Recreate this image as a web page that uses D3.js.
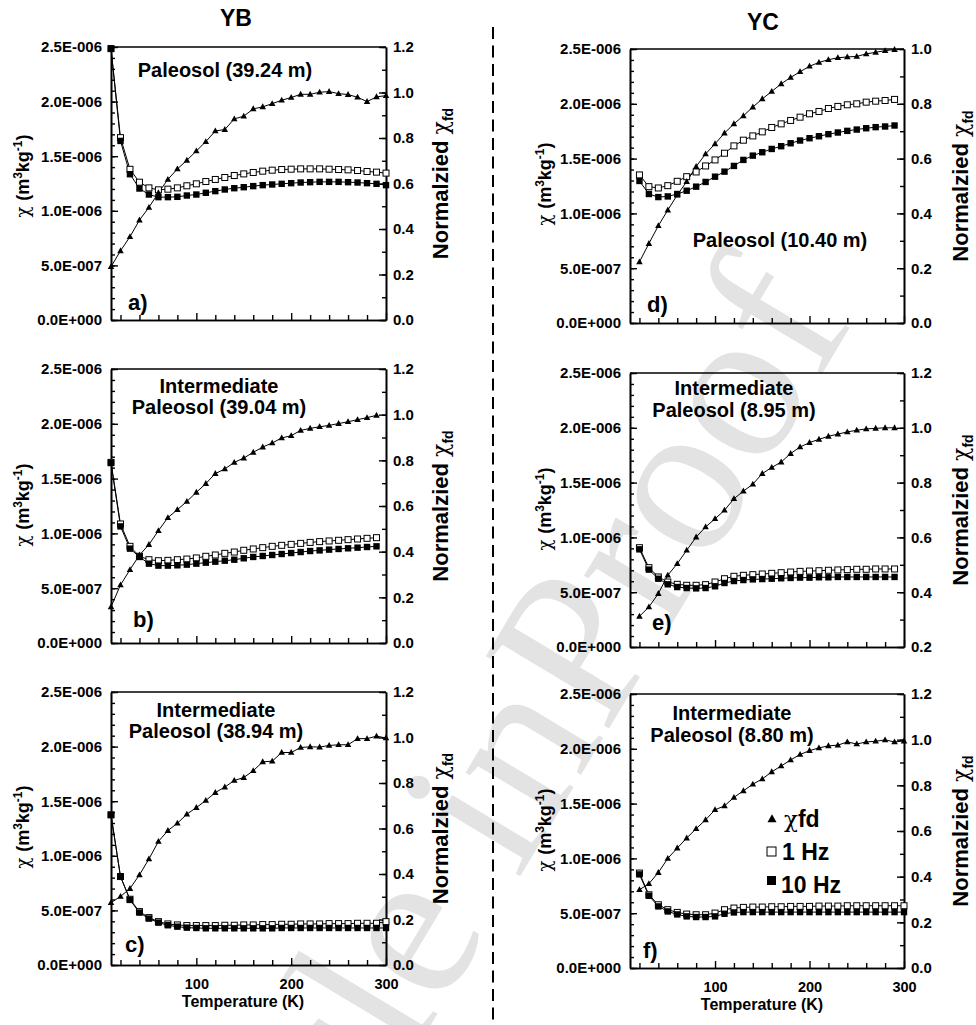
<!DOCTYPE html>
<html><head><meta charset="utf-8">
<script src="https://cdn.jsdelivr.net/npm/d3@7"></script>
<style>
body{margin:0;background:#fff}
svg{display:block}
text{font-family:"Liberation Sans",Arial,sans-serif;font-weight:bold;fill:#000}
</style>
</head><body>
<svg id="chart" width="976" height="1025"></svg>
<script>
// ---------------- DATA ----------------
// temperatures (K)
const T_a = [10,20,30,40,50,60,70,80,90,100,110,120,130,140,150,160,170,180,190,200,210,220,230,240,250,260,270,280,290,300];
const T_b = [10,20,30,40,50,60,70,80,90,100,110,120,130,140,150,160,170,180,190,200,210,220,230,240,250,260,270,280,290];
const T_c = [10,20,30,40,50,60,70,80,90,100,110,120,130,140,150,160,170,180,190,200,210,220,230,240,250,260,270,280,290,300];
const T_d = [20,30,40,50,60,70,80,90,100,110,120,130,140,150,160,170,180,190,200,210,220,230,240,250,260,270,280,290];
const T_e = [20,30,40,50,60,70,80,90,100,110,120,130,140,150,160,170,180,190,200,210,220,230,240,250,260,270,280,290];
const T_f = [20,30,40,50,60,70,80,90,100,110,120,130,140,150,160,170,180,190,200,210,220,230,240,250,260,270,280,290,300];

// chi values in units of 1E-006 m3/kg ; normalized chi_fd (right axis)
const fd_a   = [0.234,0.304,0.366,0.439,0.495,0.559,0.618,0.664,0.702,0.743,0.784,0.831,0.837,0.884,0.896,0.928,0.937,0.951,0.966,0.978,0.992,0.992,1.001,1.004,0.995,0.991,0.979,0.960,0.981,0.986];
const hz1_a  = [2.485,1.67,1.38,1.262,1.21,1.192,1.198,1.21,1.229,1.247,1.268,1.287,1.305,1.323,1.338,1.351,1.363,1.372,1.378,1.381,1.384,1.384,1.384,1.381,1.378,1.375,1.369,1.360,1.354,1.345];
const hz10_a = [2.485,1.64,1.335,1.204,1.149,1.125,1.125,1.128,1.140,1.149,1.165,1.180,1.195,1.207,1.216,1.226,1.235,1.241,1.247,1.253,1.259,1.262,1.265,1.265,1.265,1.262,1.259,1.253,1.247,1.235];

const fd_b   = [0.158,0.254,0.321,0.385,0.431,0.492,0.549,0.584,0.620,0.660,0.698,0.742,0.762,0.791,0.810,0.835,0.858,0.876,0.898,0.908,0.931,0.940,0.947,0.953,0.961,0.969,0.978,0.987,0.997];
const hz1_b  = [1.648,1.086,0.882,0.791,0.760,0.751,0.754,0.760,0.766,0.776,0.791,0.803,0.818,0.830,0.846,0.858,0.870,0.882,0.891,0.900,0.909,0.918,0.925,0.931,0.937,0.943,0.949,0.955,0.961];
const hz10_b = [1.642,1.064,0.861,0.785,0.724,0.706,0.706,0.709,0.715,0.724,0.733,0.742,0.751,0.760,0.773,0.785,0.794,0.803,0.812,0.821,0.830,0.839,0.845,0.852,0.858,0.864,0.870,0.876,0.882];

const fd_c   = [0.274,0.301,0.336,0.396,0.466,0.543,0.591,0.623,0.663,0.692,0.723,0.758,0.782,0.811,0.824,0.854,0.893,0.896,0.934,0.934,0.956,0.959,0.958,0.965,0.968,0.968,0.995,0.995,1.006,0.998];
const hz1_c  = [1.375,0.810,0.602,0.489,0.434,0.397,0.376,0.367,0.361,0.361,0.361,0.361,0.364,0.364,0.367,0.367,0.370,0.370,0.373,0.373,0.376,0.376,0.376,0.379,0.379,0.379,0.382,0.382,0.382,0.397];
const hz10_c = [1.375,0.810,0.596,0.480,0.425,0.388,0.364,0.351,0.342,0.339,0.336,0.336,0.336,0.336,0.336,0.336,0.336,0.336,0.339,0.339,0.339,0.339,0.339,0.339,0.339,0.339,0.339,0.339,0.339,0.339];

const fd_d   = [0.223,0.290,0.355,0.412,0.467,0.516,0.571,0.617,0.654,0.693,0.727,0.756,0.788,0.818,0.845,0.873,0.896,0.917,0.937,0.951,0.961,0.968,0.971,0.973,0.982,0.988,0.994,0.998];
const hz1_d  = [1.351,1.244,1.232,1.253,1.293,1.335,1.378,1.433,1.488,1.549,1.616,1.668,1.707,1.744,1.784,1.817,1.848,1.878,1.909,1.930,1.957,1.976,1.991,2.000,2.015,2.024,2.030,2.040];
const hz10_d = [1.296,1.177,1.149,1.155,1.177,1.207,1.244,1.287,1.335,1.381,1.433,1.488,1.527,1.558,1.588,1.613,1.640,1.665,1.686,1.704,1.723,1.738,1.753,1.765,1.777,1.787,1.793,1.802];

const fd_e   = [0.312,0.346,0.395,0.462,0.504,0.553,0.601,0.638,0.668,0.699,0.741,0.769,0.794,0.833,0.855,0.875,0.906,0.930,0.946,0.958,0.969,0.977,0.985,0.991,0.996,0.998,1.000,1.000];
const hz1_e  = [0.906,0.724,0.639,0.593,0.572,0.563,0.563,0.569,0.593,0.623,0.645,0.654,0.660,0.666,0.672,0.678,0.684,0.690,0.693,0.696,0.700,0.703,0.706,0.709,0.709,0.712,0.712,0.712];
const hz10_e = [0.891,0.706,0.623,0.572,0.547,0.538,0.535,0.538,0.554,0.584,0.602,0.611,0.617,0.620,0.623,0.627,0.630,0.633,0.633,0.636,0.636,0.639,0.639,0.639,0.639,0.639,0.639,0.639];

const fd_f   = [0.343,0.369,0.418,0.480,0.525,0.569,0.610,0.649,0.693,0.710,0.747,0.776,0.805,0.828,0.859,0.885,0.911,0.935,0.952,0.964,0.973,0.976,0.990,0.981,0.990,0.993,0.999,0.990,0.994];
const hz1_f  = [0.866,0.668,0.577,0.532,0.507,0.492,0.486,0.486,0.501,0.532,0.547,0.553,0.556,0.556,0.559,0.559,0.562,0.562,0.562,0.565,0.565,0.565,0.568,0.568,0.568,0.568,0.568,0.568,0.568];
const hz10_f = [0.854,0.659,0.562,0.516,0.489,0.471,0.465,0.465,0.471,0.495,0.507,0.510,0.510,0.510,0.510,0.510,0.510,0.510,0.510,0.510,0.510,0.510,0.510,0.510,0.510,0.510,0.510,0.510,0.510];

// tick labels
const chiTicks = [0,0.5,1.0,1.5,2.0,2.5];
const chiTickLabels = ["0.0E+000","5.0E-007","1.0E-006","1.5E-006","2.0E-006","2.5E-006"];
const fdTicks_12 = [0,0.2,0.4,0.6,0.8,1.0,1.2];
const fdTicks_10 = [0,0.2,0.4,0.6,0.8,1.0];
const fdTicks_e  = [0.2,0.4,0.6,0.8,1.0,1.2];
const tempTicks  = [20,40,60,80,100,120,140,160,180,200,220,240,260,280,300];
const tempLabels = [100,200,300];

const columnTitles = ["YB","YC"];
const panelTags = ["a)","b)","c)","d)","e)","f)"];
const panelNames = [["Paleosol (39.24 m)"],["Intermediate","Paleosol (39.04 m)"],["Intermediate","Paleosol (38.94 m)"],
                    ["Paleosol (10.40 m)"],["Intermediate","Paleosol (8.95 m)"],["Intermediate","Paleosol (8.80 m)"]];
const legendLabels = ["fd","1 Hz","10 Hz"];
const xTitle = "Temperature (K)";
const watermark = ["Article in ","Proof"];

// ---------------- LAYOUT ----------------
const svg = d3.select("#chart");
const FONT = '"Liberation Sans",Arial,sans-serif';

// watermark
const wm = {x:605, y:735, angle:-59, size:218};
[["start",watermark[1]],["end",watermark[0]]].forEach(([anchor,txt])=>{
  svg.append("text")
    .attr("transform",`translate(${wm.x},${wm.y}) rotate(${wm.angle})`)
    .attr("text-anchor",anchor)
    .style("font-family",'"Liberation Serif","Times New Roman",serif')
    .style("font-weight","normal")
    .style("font-size",wm.size+"px")
    .style("fill","#e3e3e3")
    .text(txt);
});

// divider
svg.append("line").attr("x1",493).attr("x2",493).attr("y1",27).attr("y2",1025)
  .attr("stroke","#000").attr("stroke-width",2).attr("stroke-dasharray","12,6.5");

// column titles
svg.append("text").attr("x",236).attr("y",26).attr("text-anchor","middle").style("font-size","23px").text(columnTitles[0]);
svg.append("text").attr("x",763).attr("y",30).attr("text-anchor","middle").style("font-size","23px").text(columnTitles[1]);

const panels = [
  {T:T_a, fd:fd_a, h1:hz1_a, h10:hz10_a, x0:111, x1:386, y0:47,  y1:320, rDom:[0,1.2], rTicks:fdTicks_12, xl:false,
   nameX:225, nameY:[77], tagX:128, tagY:310, ylX:29, ylY:176, rlX:448},
  {T:T_b, fd:fd_b, h1:hz1_b, h10:hz10_b, x0:111, x1:386, y0:369, y1:643, rDom:[0,1.2], rTicks:fdTicks_12, xl:false,
   nameX:219, nameY:[393,414], tagX:133, tagY:627, ylX:29, ylY:505, rlX:448},
  {T:T_c, fd:fd_c, h1:hz1_c, h10:hz10_c, x0:111, x1:386, y0:692, y1:965, rDom:[0,1.2], rTicks:fdTicks_12, xl:true,
   nameX:216, nameY:[717,738], tagX:125, tagY:952, ylX:29, ylY:827, rlX:448, xtX:243, xtY:1007},
  {T:T_d, fd:fd_d, h1:hz1_d, h10:hz10_d, x0:630, x1:904, y0:49,  y1:323, rDom:[0,1.0], rTicks:fdTicks_10, xl:false,
   nameX:780, nameY:[247], tagX:647, tagY:312, ylX:551, ylY:184, rlX:968},
  {T:T_e, fd:fd_e, h1:hz1_e, h10:hz10_e, x0:630, x1:904, y0:373, y1:647, rDom:[0.2,1.2], rTicks:fdTicks_e, xl:false,
   nameX:734, nameY:[395,417], tagX:652, tagY:630, ylX:551, ylY:509, rlX:968},
  {T:T_f, fd:fd_f, h1:hz1_f, h10:hz10_f, x0:630, x1:904, y0:694, y1:968, rDom:[0,1.2], rTicks:fdTicks_12, xl:true,
   nameX:732, nameY:[720,742], tagX:643, tagY:958, ylX:551, ylY:830, rlX:968, xtX:762, xtY:1010}
];

function styleAxis(g, size){
  g.selectAll("path.domain").attr("stroke","#000").attr("stroke-width",1.6);
  g.selectAll(".tick line").attr("stroke","#000").attr("stroke-width",1.4);
  g.selectAll(".tick text").style("font-family",FONT).style("font-weight","bold").style("font-size",(size||15)+"px").attr("fill","#000");
}

function triPath(cx, cy, s){
  const h = s*0.9;
  return `M${cx},${cy-h*0.6}L${cx+s/2},${cy+h*0.4}L${cx-s/2},${cy+h*0.4}Z`;
}

panels.forEach((p,i)=>{
  const g = svg.append("g");
  const x = d3.scaleLinear().domain([10,300]).range([p.x0,p.x1]);
  const y = d3.scaleLinear().domain([0,2.5]).range([p.y1,p.y0]);
  const yr = d3.scaleLinear().domain(p.rDom).range([p.y1,p.y0]);

  // top frame
  g.append("line").attr("x1",p.x0).attr("x2",p.x1).attr("y1",p.y0).attr("y2",p.y0).attr("stroke","#000").attr("stroke-width",1.4);

  // left axis
  const minorChi = d3.range(0,2.5001,0.1);
  g.append("g").attr("transform",`translate(${p.x0},0)`)
    .call(d3.axisLeft(y).tickValues(minorChi).tickFormat("").tickSize(-4).tickSizeOuter(0)).call(styleAxis);
  g.append("g").attr("transform",`translate(${p.x0},0)`)
    .call(d3.axisLeft(y).tickValues(chiTicks).tickFormat((d,k)=>chiTickLabels[k]).tickSize(-7).tickSizeOuter(0).tickPadding(9)).call(styleAxis);

  // right axis
  const minorR = d3.range(p.rDom[0], p.rDom[1]+0.0001, 0.1);
  g.append("g").attr("transform",`translate(${p.x1},0)`)
    .call(d3.axisRight(yr).tickValues(minorR).tickFormat("").tickSize(-4).tickSizeOuter(0)).call(styleAxis);
  g.append("g").attr("transform",`translate(${p.x1},0)`)
    .call(d3.axisRight(yr).tickValues(p.rTicks).tickFormat(d3.format(".1f")).tickSize(-7).tickSizeOuter(0).tickPadding(7)).call(styleAxis);

  // bottom axis
  g.append("g").attr("transform",`translate(0,${p.y1})`)
    .call(d3.axisBottom(x).tickValues(tempTicks.filter(t=>t%100!==0)).tickFormat("").tickSize(-5).tickSizeOuter(0)).call(styleAxis);
  g.append("g").attr("transform",`translate(0,${p.y1})`)
    .call(d3.axisBottom(x).tickValues(tempLabels).tickFormat(p.xl ? d3.format("d") : "").tickSize(-7).tickSizeOuter(0).tickPadding(14))
    .call(gg=>styleAxis(gg,14.5));

  if(p.xl){
    g.append("text").attr("x",p.xtX).attr("y",p.xtY).attr("text-anchor","middle").style("font-size","16px").text(xTitle);
  }

  // left axis title
  const yl = g.append("text").attr("transform",`translate(${p.ylX},${p.ylY}) rotate(-90)`)
    .attr("text-anchor","middle").style("font-size","18px");
  yl.append("tspan").style("font-weight","normal").style("font-family",'"DejaVu Serif",serif').text("χ ");
  yl.append("tspan").text("(m");
  yl.append("tspan").attr("dy",-7).style("font-size","12px").text("3");
  yl.append("tspan").attr("dy",7).text("kg");
  yl.append("tspan").attr("dy",-7).style("font-size","12px").text("-1");
  yl.append("tspan").attr("dy",7).text(")");

  // right axis title
  const rl = g.append("text").attr("transform",`translate(${p.rlX},${(p.y0+p.y1)/2}) rotate(-90)`)
    .attr("text-anchor","middle").style("font-size","22px");
  rl.append("tspan").text("Normalzied ");
  rl.append("tspan").style("font-weight","normal").style("font-family",'"DejaVu Serif",serif').text("χ");
  rl.append("tspan").attr("dy",5).style("font-size","14px").text("fd");

  // panel name and tag
  panelNames[i].forEach((s,k)=>{
    g.append("text").attr("x",p.nameX).attr("y",p.nameY[k]).attr("text-anchor","middle").style("font-size","20px").text(s);
  });
  g.append("text").attr("x",p.tagX).attr("y",p.tagY).style("font-size","22px").text(panelTags[i]);

  // series
  const line = d3.line();
  const pts1 = p.T.map((t,k)=>[x(t), y(p.h1[k])]);
  const pts10 = p.T.map((t,k)=>[x(t), y(p.h10[k])]);
  const ptsFd = p.T.map((t,k)=>[x(t), yr(p.fd[k])]);

  g.append("path").attr("d",line(ptsFd)).attr("fill","none").attr("stroke","#000").attr("stroke-width",1);
  g.append("path").attr("d",line(pts1)).attr("fill","none").attr("stroke","#000").attr("stroke-width",1);
  g.append("path").attr("d",line(pts10)).attr("fill","none").attr("stroke","#000").attr("stroke-width",1);

  g.selectAll(null).data(pts1).enter().append("rect")
    .attr("x",d=>d[0]-3).attr("y",d=>d[1]-3).attr("width",6).attr("height",6)
    .attr("fill","#fff").attr("stroke","#000").attr("stroke-width",1);
  g.selectAll(null).data(pts10).enter().append("rect")
    .attr("x",d=>d[0]-3.2).attr("y",d=>d[1]-3.2).attr("width",6.4).attr("height",6.4).attr("fill","#000");
  g.selectAll(null).data(ptsFd).enter().append("path")
    .attr("d",d=>triPath(d[0],d[1],6.5)).attr("fill","#000");
});

// legend (panel f)
const lg = svg.append("g");
lg.append("path").attr("d",triPath(772,819,9)).attr("fill","#000");
lg.append("rect").attr("x",767).attr("y",847).attr("width",9).attr("height",9).attr("fill","#fff").attr("stroke","#000").attr("stroke-width",1);
lg.append("rect").attr("x",767).attr("y",876).attr("width",9).attr("height",9).attr("fill","#000");
const l0 = lg.append("text").attr("x",784).attr("y",827).style("font-size","23px");
l0.append("tspan").style("font-weight","normal").style("font-family",'"DejaVu Serif",serif').text("χ");
l0.append("tspan").text(legendLabels[0]);
lg.append("text").attr("x",782).attr("y",860).style("font-size","23px").text(legendLabels[1]);
lg.append("text").attr("x",781).attr("y",893).style("font-size","23px").text(legendLabels[2]);
</script>
</body></html>
